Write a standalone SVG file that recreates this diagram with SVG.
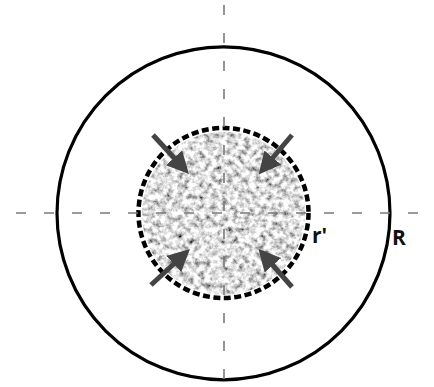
<svg xmlns="http://www.w3.org/2000/svg" width="434" height="387" viewBox="0 0 434 387">
<style>
.axis{stroke:#7a7a7a;stroke-width:1.6;stroke-dasharray:10 18;fill:none}
.arrow{stroke:#444;stroke-width:5;fill:none;marker-end:url(#head)}
.lbl{font-family:"Open Sans","Liberation Sans",sans-serif;font-weight:bold;font-size:21px;fill:#111}
</style>
<defs>
<marker id="head" viewBox="0 0 10 10" refX="2" refY="5" markerWidth="4.4" markerHeight="4.4" orient="auto" markerUnits="strokeWidth">
<path d="M0,0 L10,5 L0,10 Z" fill="#444"/>
</marker>
<filter id="grain" x="0" y="0" width="100%" height="100%">
<feTurbulence type="fractalNoise" baseFrequency="0.18" numOctaves="4" seed="7" result="n"/>
<feColorMatrix in="n" type="matrix" values="1.9 0 0 0 -0.22  1.9 0 0 0 -0.22  1.9 0 0 0 -0.22  0 0 0 0 1" result="g"/>
<feComposite in="g" in2="SourceGraphic" operator="in"/>
</filter>
</defs>
<rect width="434" height="387" fill="#fff"/>
<g id="outer-circle">
<circle cx="223.5" cy="213.3" r="166.5" fill="none" stroke="#000" stroke-width="3.2"/>
</g>
<g id="core">
<circle cx="223.5" cy="213.3" r="81.5" fill="#c8c8c8" filter="url(#grain)"/>
</g>
<g id="inner-boundary">
<circle cx="223.5" cy="213" r="85" fill="none" stroke="#000" stroke-width="4.5" stroke-dasharray="7 3.5"/>
</g>
<g id="axes">
<line class="axis" x1="224" y1="5" x2="224" y2="387"/>
<line class="axis" x1="16" y1="213" x2="434" y2="213"/>
</g>
<g id="connectors">
<line class="arrow" x1="153" y1="135" x2="177" y2="161"/>
<line class="arrow" x1="292" y1="135" x2="270" y2="161"/>
<line class="arrow" x1="151" y1="285" x2="177" y2="261"/>
<line class="arrow" x1="292" y1="287" x2="270" y2="262"/>
</g>
<g id="label-r">
<text class="lbl" x="312" y="243">r'</text>
</g>
<g id="label-R">
<text class="lbl" x="392" y="245">R</text>
</g>
</svg>
